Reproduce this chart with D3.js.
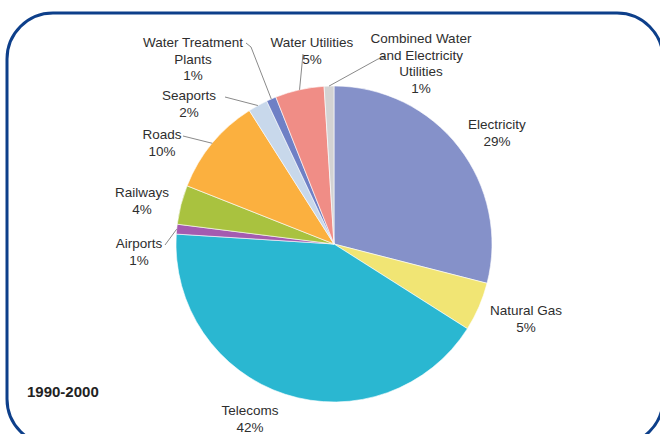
<!DOCTYPE html>
<html>
<head>
<meta charset="utf-8">
<script src="https://cdn.jsdelivr.net/npm/d3@7"></script>
<style>
  html, body { margin: 0; padding: 0; background: #fff; }
  svg { display: block; font-family: "Liberation Sans", Arial, sans-serif; }
</style>
</head>
<body>
<div id="chart"></div>
<script>
// data, clockwise from 12 o'clock
const categories = ['Electricity', 'Natural Gas', 'Telecoms', 'Airports', 'Railways', 'Roads',
  'Seaports', 'Water Treatment Plants', 'Water Utilities', 'Combined Water and Electricity Utilities'];
const shares = [29, 5, 42, 1, 4, 10, 2, 1, 5, 1];
const sliceColors = ['#8591c9', '#f1e574', '#2ab7d1', '#a45bb0', '#a9c23f', '#fbb03f',
  '#c8d8eb', '#6f80c5', '#f08d86', '#d3d3d3'];
const periodLabel = '1990-2000';

// label text lines (last line gets the percent)
const labelLines = [['Electricity'], ['Natural Gas'], ['Telecoms'], ['Airports'], ['Railways'], ['Roads'],
  ['Seaports'], ['Water Treatment', 'Plants'], ['Water Utilities'], ['Combined Water', 'and Electricity', 'Utilities']];

// layout of labels: centre x, first line middle y, optional leader start
const labelLayout = [
  { x: 497, y: 124 },
  { x: 526, y: 310 },
  { x: 250, y: 410 },
  { x: 139, y: 243, lead: [[165, 245]] },
  { x: 142, y: 192 },
  { x: 162, y: 134, lead: [[183, 136]] },
  { x: 189, y: 95, lead: [[225, 97]] },
  { x: 193, y: 42, lead: [[246, 43], [251, 47]] },
  { x: 312, y: 42, lead: [[303, 54]] },
  { x: 421, y: 38, lead: [[386, 57], [378, 59]] }
];

const width = 660, height = 434;
const cx = 334, cy = 244, radius = 158;
const lineH = 16.5;

const svg = d3.select('#chart').append('svg')
  .attr('width', width)
  .attr('height', height);

// rounded frame
svg.append('rect')
  .attr('x', 7)
  .attr('y', 13)
  .attr('width', 656)
  .attr('height', 432)
  .attr('rx', 46)
  .attr('fill', 'none')
  .attr('stroke', '#0d3f8a')
  .attr('stroke-width', 3);

const slices = categories.map((c, i) => ({ name: c, value: shares[i], i: i }));

const pie = d3.pie().sort(null).value(d => d.value);
const arcs = pie(slices);
const arc = d3.arc().innerRadius(0).outerRadius(radius);

const g = svg.append('g').attr('transform', `translate(${cx},${cy})`);

g.selectAll('path.slice')
  .data(arcs)
  .join('path')
  .attr('class', 'slice')
  .attr('d', arc)
  .attr('fill', d => sliceColors[d.data.i])
  .attr('stroke', '#fff')
  .attr('stroke-width', 0.6);

// leader lines: from label to the slice edge at its mid angle
const edgePoint = d => {
  const a = (d.startAngle + d.endAngle) / 2;
  return [cx + radius * Math.sin(a), cy - radius * Math.cos(a)];
};

arcs.forEach(d => {
  const lay = labelLayout[d.data.i];
  if (!lay.lead) return;
  const pts = lay.lead.concat([edgePoint(d)]);
  svg.append('path')
    .attr('d', d3.line()(pts))
    .attr('fill', 'none')
    .attr('stroke', '#8a8a8a')
    .attr('stroke-width', 1);
});

// labels
arcs.forEach(d => {
  const lay = labelLayout[d.data.i];
  const lines = labelLines[d.data.i].concat([d.data.value + '%']);
  const t = svg.append('text')
    .attr('text-anchor', 'middle')
    .attr('font-size', '13.5px')
    .attr('fill', '#2e2e2e');
  lines.forEach((ln, k) => {
    t.append('tspan')
      .attr('x', lay.x)
      .attr('y', lay.y + k * lineH + 5)
      .text(ln);
  });
});

svg.append('text')
  .attr('x', 27)
  .attr('y', 397)
  .attr('font-size', '15px')
  .attr('font-weight', 'bold')
  .attr('fill', '#222')
  .text(periodLabel);
</script>
</body>
</html>
